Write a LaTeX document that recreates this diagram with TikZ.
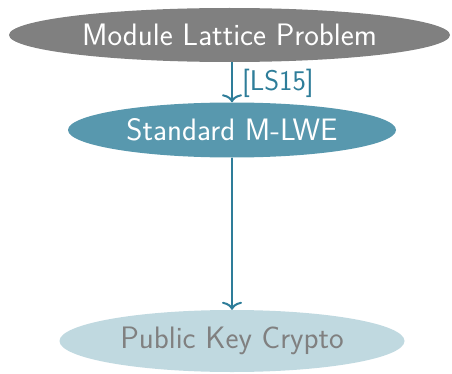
\documentclass[tikz,border=0pt]{standalone}
\usetikzlibrary{shapes.geometric,arrows.meta}
\renewcommand{\familydefault}{\sfdefault}
\definecolor{topgray}{HTML}{808080}
\definecolor{midteal}{HTML}{5898AE}
\definecolor{arrowteal}{HTML}{2E7D99}
\definecolor{paleteal}{HTML}{C0D9E0}
\begin{document}
\begin{tikzpicture}[x=1pt,y=1pt,
  blob/.style={ellipse,inner sep=0pt,font=\fontsize{31}{36}\selectfont},
  link/.style={draw=arrowteal,line width=2pt,-{To[length=8pt,width=20pt]}}]
\useasboundingbox (0,0) rectangle (452,373);
\node[blob,fill=topgray,text=white,minimum width=441pt,minimum height=54pt] (mlp) at (229.5,338) {Module Lattice Problem};
\node[blob,fill=midteal,text=white,minimum width=328pt,minimum height=55pt] (mlwe) at (232,243) {Standard M-LWE};
\node[blob,fill=paleteal,text=topgray,minimum width=345pt,minimum height=62pt] (pkc) at (232,32) {Public Key Crypto};
\draw[link] (mlp.south -| mlwe.north) -- node[right,text=arrowteal,font=\fontsize{28.5}{33}\selectfont,inner sep=0pt,xshift=9pt,yshift=-1pt] {[LS15]} (mlwe.north);
\draw[link] (mlwe.south) -- (pkc.north);
\end{tikzpicture}
\end{document}
